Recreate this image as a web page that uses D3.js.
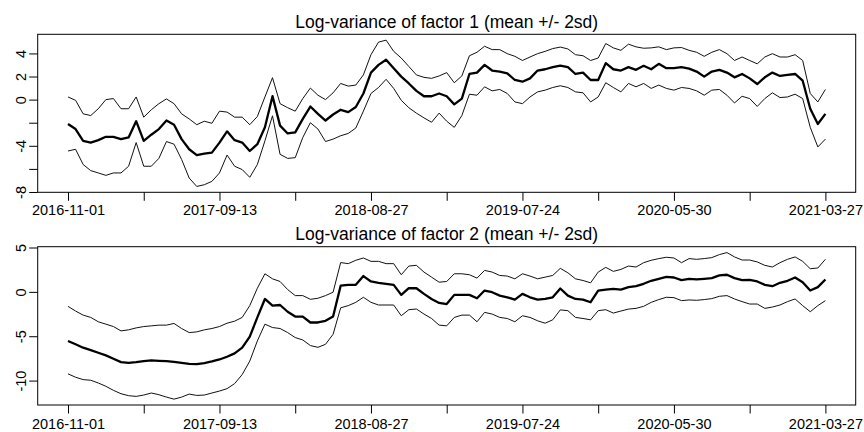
<!DOCTYPE html>
<html>
<head>
<meta charset="utf-8">
<script src="https://cdn.jsdelivr.net/npm/d3@7"></script>
<style>
  body { margin: 0; background: #fff; }
  svg { display: block; font-family: "Liberation Sans", Arial, Helvetica, sans-serif; }
</style>
</head>
<body>
<svg id="chart" width="864" height="432"></svg>
<script>
// dates at the labelled ticks (every 20th observation)
const dateLabels = ["2016-11-01", "2017-09-13", "2018-08-27", "2019-07-24", "2020-05-30", "2021-03-27"];

// factor 1 log-variance: upper (+2sd), mean, lower (-2sd)
const f1Upper = [0.23, -0.06, -1.23, -1.38, -0.79, 0.00, 0.09, -0.79, -0.79, 0.23,
  -1.52, -0.88, -0.35, 0.06, -0.35, -1.23, -1.67, -2.17, -1.87, -2.05,
  -1.00, -1.08, -1.52, -1.52, -2.17, -1.46, 0.23, 1.90, -0.35, -0.70,
  -1.00, 0.09, 1.00, 0.38, 0.00, 0.59, 1.40, 1.17, 1.26, 2.14,
  3.89, 4.98, 5.15, 4.18, 3.60, 2.87, 2.14, 1.93, 1.84, 2.05,
  2.34, 1.46, 2.05, 3.80, 4.10, 4.62, 4.33, 4.33, 3.98, 3.75,
  3.39, 3.69, 3.98, 4.18, 4.42, 4.55, 4.39, 3.89, 3.80, 3.39,
  3.60, 4.86, 4.48, 4.27, 4.80, 4.57, 4.45, 4.48, 4.57, 4.33,
  4.48, 4.51, 4.27, 4.10, 3.75, 4.10, 4.33, 3.98, 3.39, 3.69,
  3.39, 3.10, 3.69, 3.98, 3.69, 3.69, 3.89, 3.39, 0.53, -0.20, 0.88];
const f1Mean = [-2.11, -2.55, -3.57, -3.72, -3.51, -3.22, -3.22, -3.42, -3.28, -1.87,
  -3.57, -3.04, -2.55, -1.81, -2.17, -3.42, -4.30, -4.80, -4.68, -4.59,
  -3.72, -2.75, -3.51, -3.72, -4.45, -3.86, -2.40, 0.30, -2.25, -2.93,
  -2.84, -1.67, -0.60, -1.23, -1.81, -1.29, -0.88, -1.08, -0.64, 0.53,
  2.34, 3.01, 3.45, 2.72, 1.99, 1.40, 0.76, 0.29, 0.29, 0.53,
  0.29, -0.41, 0.09, 2.22, 2.34, 3.01, 2.52, 2.43, 2.28, 1.70,
  1.55, 1.84, 2.52, 2.63, 2.81, 2.95, 2.81, 2.22, 2.34, 1.70,
  1.70, 3.16, 2.63, 2.52, 2.81, 2.58, 2.93, 2.63, 3.10, 2.72,
  2.72, 2.81, 2.69, 2.43, 1.99, 2.43, 2.58, 2.34, 1.93, 2.22,
  1.84, 1.35, 1.93, 2.34, 2.05, 2.14, 2.22, 1.64, -0.79, -2.11, -1.23];
const f1Lower = [-4.45, -4.30, -5.62, -6.15, -6.35, -6.56, -6.35, -6.35, -5.77, -3.72,
  -5.77, -5.77, -5.09, -3.63, -3.86, -5.18, -6.79, -7.52, -7.37, -7.08,
  -6.35, -4.80, -5.77, -6.06, -6.73, -5.62, -3.57, -1.40, -4.74, -5.09,
  -5.03, -3.28, -2.00, -2.55, -3.63, -3.42, -3.13, -2.93, -2.46, -1.00,
  0.53, 1.05, 1.76, 0.97, -0.06, -0.70, -1.17, -1.58, -1.96, -1.17,
  -1.87, -2.40, -1.38, 0.47, 0.38, 1.11, 0.76, 0.88, 0.53, -0.20,
  -0.35, 0.23, 0.67, 0.82, 1.05, 1.20, 1.05, 0.67, 0.59, -0.20,
  0.23, 1.46, 1.05, 0.67, 1.40, 1.11, 1.40, 0.97, 1.26, 0.97,
  0.82, 1.05, 0.97, 0.76, 0.38, 0.82, 0.88, 0.38, -0.29, 0.29,
  0.09, -0.59, 0.09, 0.59, 0.18, 0.23, 0.47, 0.09, -2.40, -4.10, -3.42];

// factor 2 log-variance
const f2Upper = [-1.63, -2.16, -2.62, -2.88, -3.37, -3.64, -3.91, -4.40, -4.28, -4.06,
  -3.91, -3.83, -3.75, -3.75, -3.56, -4.13, -4.59, -4.51, -4.28, -4.13,
  -3.91, -3.53, -3.30, -2.88, -1.55, 0.41, 2.04, 1.47, 1.17, 0.26,
  -0.42, -0.42, -0.84, -0.72, -0.42, -0.04, 3.30, 3.18, 3.56, 3.82,
  3.44, 3.44, 3.18, 3.18, 1.93, 2.91, 2.99, 2.23, 1.66, 1.09,
  1.17, 2.04, 2.04, 1.93, 1.55, 2.42, 2.23, 1.85, 1.78, 1.47,
  2.04, 1.78, 1.47, 1.66, 1.85, 2.65, 2.15, 1.47, 1.28, 1.02,
  2.23, 2.76, 2.31, 2.53, 2.91, 2.80, 3.29, 3.56, 3.75, 3.90,
  3.82, 3.29, 3.75, 3.67, 3.75, 3.86, 4.20, 4.43, 3.94, 3.59,
  3.59, 3.37, 2.99, 2.80, 3.29, 3.67, 3.94, 3.44, 2.61, 2.69, 3.67];
const f2Mean = [-5.53, -5.91, -6.29, -6.56, -6.86, -7.16, -7.54, -7.92, -8.00, -7.92,
  -7.80, -7.73, -7.77, -7.80, -7.88, -8.00, -8.11, -8.15, -8.03, -7.84,
  -7.62, -7.31, -6.93, -6.29, -5.04, -2.88, -0.80, -1.55, -1.48, -2.24,
  -2.78, -2.78, -3.45, -3.45, -3.26, -2.77, 0.70, 0.79, 0.79, 1.78,
  1.17, 1.02, 0.91, 0.79, -0.34, 0.41, 0.41, -0.23, -0.80, -1.25,
  -1.37, -0.34, -0.34, -0.34, -0.72, 0.15, -0.04, -0.42, -0.61, -0.88,
  -0.23, -0.61, -0.88, -0.80, -0.61, 0.38, -0.42, -0.80, -0.87, -1.17,
  0.15, 0.26, 0.34, 0.26, 0.53, 0.64, 0.91, 1.25, 1.47, 1.70,
  1.62, 1.32, 1.47, 1.40, 1.47, 1.55, 1.85, 1.93, 1.55, 1.32,
  1.36, 1.17, 0.79, 0.64, 1.02, 1.25, 1.62, 1.09, 0.15, 0.53, 1.40];
const f2Lower = [-9.24, -9.62, -9.89, -9.96, -10.27, -10.64, -11.10, -11.48, -11.70, -11.78,
  -11.63, -11.40, -11.59, -11.86, -12.09, -11.86, -11.52, -11.67, -11.63, -11.40,
  -11.18, -10.91, -10.34, -9.32, -7.80, -5.53, -3.64, -4.02, -4.13, -4.59,
  -5.15, -5.42, -6.05, -6.25, -5.91, -4.78, -1.80, -1.55, -1.18, -0.61,
  -1.18, -1.48, -1.48, -1.48, -2.69, -2.01, -1.93, -2.50, -3.00, -3.75,
  -3.83, -2.88, -2.62, -2.62, -3.37, -2.31, -2.50, -2.88, -3.00, -3.37,
  -2.69, -2.88, -3.26, -3.53, -3.15, -2.03, -2.12, -2.88, -3.00, -3.15,
  -2.12, -2.01, -2.39, -2.16, -1.94, -1.86, -1.63, -1.18, -0.87, -0.61,
  -0.65, -0.99, -0.91, -0.95, -0.87, -0.76, -0.50, -0.42, -0.80, -1.10,
  -1.37, -1.37, -1.86, -1.71, -1.48, -1.10, -0.80, -1.55, -2.24, -1.55, -0.99];

const f1YTicks = [-8, -6, -4, -2, 0, 2, 4];
const f1YLabels = [-8, -4, 0, 2, 4];
const f2YTicks = [-10, -5, 0, 5];
const f2YLabels = [-10, -5, 0, 5];

const svg = d3.select('#chart');
const left = 37.7, right = 855.7;
const n = f1Mean.length;

// R-style 4% axis extension
function pad(ext) {
    const d = (ext[1] - ext[0]) * 0.04;
    return [ext[0] - d, ext[1] + d];
}

const x = d3.scaleLinear()
    .domain(pad([0, n - 1]))
    .range([left, right]);

function drawPanel(cfg) {
    const g = svg.append('g');
    const ext = d3.extent(cfg.lower.concat(cfg.upper));
    const y = d3.scaleLinear()
        .domain(pad(ext))
        .range([cfg.bottom, cfg.top]);

    const line = d3.line()
        .x((d, i) => x(i))
        .y(d => y(d));

    g.append('path').datum(cfg.upper)
        .attr('d', line).attr('fill', 'none')
        .attr('stroke', '#111').attr('stroke-width', 1);
    g.append('path').datum(cfg.lower)
        .attr('d', line).attr('fill', 'none')
        .attr('stroke', '#111').attr('stroke-width', 1);
    g.append('path').datum(cfg.mean)
        .attr('d', line).attr('fill', 'none')
        .attr('stroke', '#000').attr('stroke-width', 2.3)
        .attr('stroke-linejoin', 'round');

    // box
    g.append('rect')
        .attr('x', left).attr('y', cfg.top)
        .attr('width', right - left).attr('height', cfg.bottom - cfg.top)
        .attr('fill', 'none').attr('stroke', '#000').attr('stroke-width', 1);

    // x axis
    const xa = g.append('g')
        .attr('transform', `translate(0,${cfg.bottom})`)
        .call(d3.axisBottom(x)
            .tickValues(d3.range(0, n, 10))
            .tickSize(8.5)
            .tickPadding(cfg.xPad)
            .tickFormat(i => i % 20 === 0 ? dateLabels[i / 20] : ''));
    xa.select('.domain').remove();
    xa.selectAll('text').attr('font-size', '14.5px').attr('fill', '#000')
        .attr('font-family', '"Liberation Sans", Arial, sans-serif');

    // y axis, labels rotated as in R
    const ya = g.append('g')
        .attr('transform', `translate(${left},0)`)
        .call(d3.axisLeft(y)
            .tickValues(cfg.yTicks)
            .tickSize(8.5)
            .tickFormat(v => cfg.yLabels.includes(v) ? v : ''));
    ya.select('.domain').remove();
    ya.selectAll('text')
        .attr('x', null).attr('dy', null)
        .attr('text-anchor', 'middle')
        .attr('transform', 'translate(-12.2,0) rotate(-90)')
        .attr('font-size', '14.5px').attr('fill', '#000')
        .attr('font-family', '"Liberation Sans", Arial, sans-serif');

    g.append('text')
        .attr('x', (left + right) / 2)
        .attr('y', cfg.titleY)
        .attr('text-anchor', 'middle')
        .attr('font-size', '17.5px')
        .text(cfg.title);
}

drawPanel({
    title: 'Log-variance of factor 1 (mean +/- 2sd)',
    upper: f1Upper, mean: f1Mean, lower: f1Lower,
    top: 34.3, bottom: 192.3, titleY: 28.3, xPad: 4.2,
    yTicks: f1YTicks, yLabels: f1YLabels
});
drawPanel({
    title: 'Log-variance of factor 2 (mean +/- 2sd)',
    upper: f2Upper, mean: f2Mean, lower: f2Lower,
    top: 246.7, bottom: 405, titleY: 240, xPad: 4.8,
    yTicks: f2YTicks, yLabels: f2YLabels
});
</script>
</body>
</html>
